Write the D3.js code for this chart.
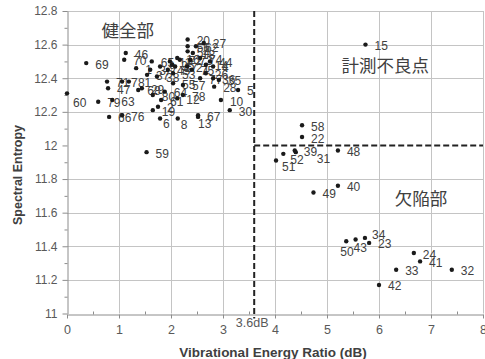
<!DOCTYPE html>
<html>
<head>
<meta charset="utf-8">
<script src="https://cdn.jsdelivr.net/npm/d3@7"></script>
<style>
  html, body { margin: 0; padding: 0; background: #fff; }
  svg { display: block; }
</style>
</head>
<body>
<svg id="chart" width="485" height="359"></svg>
<script>
// Measurement points: id, vibrational energy ratio (dB), spectral entropy
const pointIds = [
  60, 69, 79, 63, 66, 76, 46, 70, 71, 47, 7, 81, 1, 29, 80, 61, 68, 19, 2, 6,
  8, 13, 67, 12, 10, 30, 5, 28, 35, 20, 56, 54, 62, 27, 18, 16, 21, 25, 4, 14,
  26, 44, 36, 3, 9, 11, 17, 37, 38, 45, 53, 55, 57, 64, 65, 72, 73, 74, 75, 77,
  78, 59,
  15,
  58, 22, 39, 31, 52, 51, 48, 49, 40, 50, 43, 34, 23, 24, 41, 33, 32, 42
];
const energyRatio = [
  0.00, 0.37, 0.60, 0.87, 0.81, 1.06, 1.13, 1.10, 0.77, 0.79, 1.06, 1.19, 1.33, 1.44, 1.65, 1.81, 1.37, 1.65, 1.75, 1.79,
  2.13, 2.52, 2.52, 2.12, 2.96, 3.13, 3.29, 2.83, 2.92, 2.32, 2.32, 2.32, 2.48, 2.63, 2.42, 2.12, 2.31, 2.02, 2.81, 2.67,
  2.67, 2.75, 2.81, 1.60, 1.79, 1.98, 2.08, 1.54, 1.73, 1.94, 2.04, 2.04, 2.23, 1.88, 1.63, 2.17, 2.37, 2.56, 2.40, 2.56,
  2.23, 1.53,
  5.74,
  4.52, 4.52, 4.38, 4.40, 4.16, 4.02, 5.21, 4.74, 5.21, 5.37, 5.55, 5.73, 5.81, 6.67, 6.79, 6.33, 7.40, 6.00
];
const spectralEntropy = [
  12.31, 12.49, 12.26, 12.27, 12.17, 12.18, 12.55, 12.51, 12.38, 12.34, 12.38, 12.38, 12.46, 12.34, 12.30, 12.27, 12.33, 12.21, 12.23, 12.16,
  12.16, 12.17, 12.18, 12.28, 12.27, 12.21, 12.33, 12.35, 12.39, 12.63, 12.59, 12.56, 12.59, 12.61, 12.55, 12.52, 12.47, 12.48, 12.47, 12.48,
  12.43, 12.50, 12.40, 12.45, 12.47, 12.50, 12.47, 12.42, 12.41, 12.45, 12.43, 12.37, 12.36, 12.32, 12.50, 12.51, 12.51, 12.52, 12.45, 12.40,
  12.30, 11.96,
  12.60,
  12.12, 12.05, 11.97, 11.96, 11.95, 11.91, 11.97, 11.72, 11.76, 11.43, 11.44, 11.45, 11.42, 11.36, 11.31, 11.26, 11.26, 11.17
];

// Axis ticks
const xTicks = [0, 1, 2, 3, 4, 5, 6, 7, 8];
const yTicks = [11, 11.2, 11.4, 11.6, 11.8, 12, 12.2, 12.4, 12.6, 12.8];

// Thresholds separating the regions
const ratioThreshold = 3.6;
const entropyThreshold = 12.0;
const thresholdLabel = "3.6dB";

// Region names
const regionNames = ["健全部", "計測不良点", "欠陥部"];
const regionRatio = [1.17, 6.12, 6.81];
const regionEntropy = [12.69, 12.48, 11.69];

const xTitle = "Vibrational Energy Ratio (dB)";
const yTitle = "Spectral Entropy";

// Label placement tweaks where neighbouring labels would collide (pixels)
const labelNudge = {
  60: [6, 10], 50: [-6, 11], 43: [-2, 8], 34: [7, -3], 52: [7, 6], 51: [6, 6],
  31: [21, 7], 13: [0, 7], 8: [3, 6], 6: [3, 5]
};

const svg = d3.select("#chart");
const W = 485, H = 359;
svg.append("rect").attr("width", W).attr("height", H).attr("fill", "#fff");

const x = d3.scaleLinear().domain([0, 8]).range([67, 483]);
const y = d3.scaleLinear().domain([11, 12.8]).range([313.5, 11]);

const latin = "'Liberation Sans', Arial, sans-serif";
const cjk = "'Noto Sans CJK JP', sans-serif";

// Gridlines
const grid = svg.append("g").attr("stroke", "#c4c4c4").attr("stroke-width", 1);
yTicks.filter(v => v !== 11 && v !== entropyThreshold).forEach(v => {
  grid.append("line")
    .attr("x1", x(0)).attr("x2", x(8))
    .attr("y1", Math.round(y(v)) + 0.5).attr("y2", Math.round(y(v)) + 0.5);
});
xTicks.filter(v => v !== 0).forEach(v => {
  grid.append("line")
    .attr("x1", Math.round(x(v)) + 0.5).attr("x2", Math.round(x(v)) + 0.5)
    .attr("y1", y(12.8)).attr("y2", y(11));
});

// Axes
const fmt = v => String(+v.toFixed(1));
const yMinor = d3.range(11, 12.85, 0.1).map(v => +v.toFixed(1)).filter(v => !yTicks.includes(v));
const xMinor = d3.range(0.5, 8, 1);

const yAxis = svg.append("g").attr("transform", `translate(${Math.round(x(0)) + 0.5},0)`)
  .call(d3.axisLeft(y).tickValues(yTicks).tickFormat(fmt).tickSize(5).tickPadding(5).tickSizeOuter(0));
svg.append("g").attr("transform", `translate(${Math.round(x(0)) + 0.5},0)`)
  .call(d3.axisLeft(y).tickValues(yMinor).tickFormat("").tickSize(3).tickSizeOuter(0))
  .select(".domain").remove();

const xAxis = svg.append("g").attr("transform", `translate(0,${Math.round(y(11)) + 0.5})`)
  .call(d3.axisBottom(x).tickValues(xTicks).tickFormat(d3.format("d")).tickSize(4).tickPadding(7).tickSizeOuter(0));
svg.append("g").attr("transform", `translate(0,${Math.round(y(11)) + 0.5})`)
  .call(d3.axisTop(x).tickValues(xMinor).tickFormat("").tickSize(3).tickSizeOuter(0))
  .select(".domain").remove();

svg.selectAll(".domain, .tick line").attr("stroke", "#8c8c8c");
yAxis.selectAll("text").attr("font-family", latin).attr("font-size", 12).attr("fill", "#595959");
xAxis.selectAll("text").attr("font-family", latin).attr("font-size", 12.5).attr("fill", "#595959");

// Threshold lines
const dash = svg.append("g").attr("stroke", "#222").attr("stroke-width", 2).attr("stroke-dasharray", "6,3").attr("fill", "none");
dash.append("line")
  .attr("x1", x(ratioThreshold)).attr("x2", x(ratioThreshold))
  .attr("y1", y(12.8)).attr("y2", y(11) + 5);
dash.append("line")
  .attr("x1", x(ratioThreshold)).attr("x2", x(8))
  .attr("y1", y(entropyThreshold)).attr("y2", y(entropyThreshold));
svg.append("text")
  .attr("x", x(ratioThreshold) - 2).attr("y", y(11) + 13)
  .attr("text-anchor", "middle")
  .attr("font-family", latin).attr("font-size", 12.5).attr("fill", "#595959")
  .text(thresholdLabel);

// Region names
regionNames.forEach((name, i) => {
  svg.append("text")
    .attr("x", x(regionRatio[i])).attr("y", y(regionEntropy[i]))
    .attr("text-anchor", "middle").attr("dominant-baseline", "central")
    .attr("font-family", cjk).attr("font-size", 17.5).attr("fill", "#404040")
    .text(name);
});

// Points and their labels
const pts = pointIds.map((id, i) => ({ id, vx: energyRatio[i], vy: spectralEntropy[i] }));

svg.append("g").selectAll("text").data(pts).join("text")
  .attr("x", d => x(d.vx) + (labelNudge[d.id] ? labelNudge[d.id][0] : 9))
  .attr("y", d => y(d.vy) + (labelNudge[d.id] ? labelNudge[d.id][1] : 1.5))
  .attr("dominant-baseline", "central")
  .attr("font-family", latin).attr("font-size", 12).attr("fill", "#404040")
  .text(d => d.id);

svg.append("g").selectAll("circle").data(pts).join("circle")
  .attr("cx", d => x(d.vx)).attr("cy", d => y(d.vy))
  .attr("r", 2.2).attr("fill", "#1a1a1a");

// Axis titles
svg.append("text")
  .attr("x", 273).attr("y", 352)
  .attr("text-anchor", "middle").attr("dominant-baseline", "central")
  .attr("font-family", latin).attr("font-weight", "bold").attr("font-size", 13.5).attr("fill", "#404040")
  .text(xTitle);
svg.append("text")
  .attr("transform", "translate(18,175) rotate(-90)")
  .attr("text-anchor", "middle").attr("dominant-baseline", "central")
  .attr("font-family", latin).attr("font-weight", "bold").attr("font-size", 12.5).attr("fill", "#404040")
  .text(yTitle);
</script>
</body>
</html>
